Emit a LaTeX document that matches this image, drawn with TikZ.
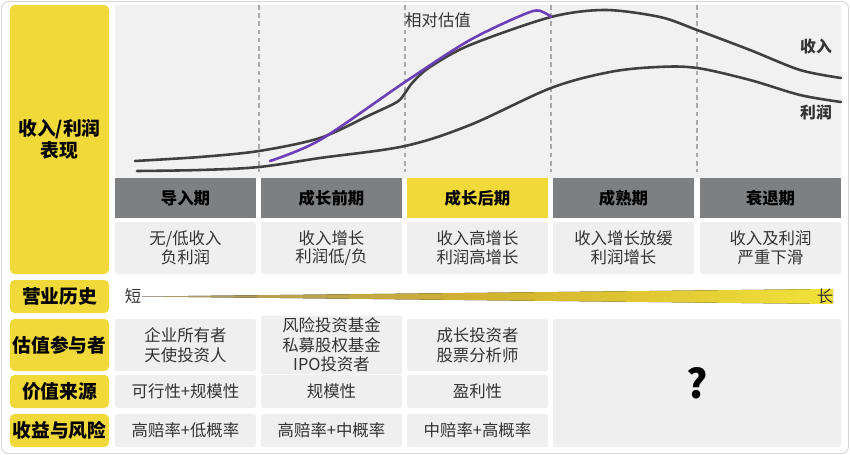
\documentclass[tikz,border=0pt]{standalone}
\usepackage{fontspec}
\setmainfont{Noto Sans CJK SC}
\usetikzlibrary{positioning, calc}
\definecolor{TextGray}{HTML}{333333}
\definecolor{StageYellow}{HTML}{F2D93A}
\definecolor{HeadGray}{HTML}{7E7F81}
\definecolor{CellGray}{HTML}{EFEFEF}
\definecolor{ChartGray}{HTML}{F1F1F1}
\definecolor{LineGray}{HTML}{D6D6D6}
\definecolor{DashGray}{HTML}{A9A9A9}
\definecolor{CurveDark}{HTML}{404040}
\definecolor{ValuePurple}{HTML}{6B3FB8}
\definecolor{BarGold}{HTML}{A89568}
\definecolor{BarMid}{HTML}{D2B22E}
\definecolor{BarYellow}{HTML}{F2E23A}
\tikzset{
  rowlabel/.style={fill=StageYellow, rounded corners=4pt, align=center, minimum width=2.97cm, inner sep=2pt, font=\fontsize{16}{19}\selectfont\bfseries, text=black},
  stagehead/.style={fill=HeadGray, align=center, minimum width=4.23cm, minimum height=1.2cm, inner sep=2pt, font=\fontsize{14}{17}\selectfont\bfseries, text=black},
  stagehot/.style={stagehead, fill=StageYellow},
  cell/.style={fill=CellGray, rounded corners=1.5pt, align=center, minimum width=4.23cm, inner sep=2pt, font=\fontsize{14}{17}\selectfont, text=TextGray},
  desccell/.style={cell, minimum height=1.56cm, font=\fontsize{14}{15.8}\selectfont},
  tallcell/.style={cell, minimum height=1.56cm},
  lowcell/.style={cell, minimum height=0.99cm},
  curvelabel/.style={font=\fontsize{13.5}{16}\selectfont\bfseries, text=TextGray},
  curve/.style={line width=2.2pt, draw=CurveDark, line cap=round},
  valuecurve/.style={line width=2.2pt, draw=ValuePurple, line cap=round},
  stagedash/.style={draw=DashGray, line width=1pt, dash pattern=on 4pt off 3pt}
}

\begin{document}
\begin{tikzpicture}[x=0.03cm, y=-0.03cm]
\useasboundingbox (0,0) rectangle (850,455);
\draw[LineGray, fill=white, rounded corners=6pt, line width=0.8pt] (1.5,1.5) rectangle (848.5,453.5);

\fill[ChartGray, rounded corners=2pt] (115,5) rectangle (841,178);
\draw[stagedash] (259,5) -- (259,172);
\draw[stagedash] (405,5) -- (405,172);
\draw[stagedash] (551,5) -- (551,172);
\draw[stagedash] (697,5) -- (697,172);

\draw[curve] plot[smooth, tension=0.55] coordinates {(137,171) (200,170) (259,167) (320,158) (405,146) (470,125) (551,88) (610,72) (658,67) (697,68) (750,80) (800,95) (841,102)};
\draw[curve] plot[smooth, tension=0.5] coordinates {(135,161) (200,157) (259,151) (320,138) (370,115) (397,102) (405,93) (413,82) (430,67) (470,45) (551,17) (605,10) (660,17) (697,30) (750,50) (800,70) (841,78)};
\draw[valuecurve] plot[smooth, tension=0.5] coordinates {(270,161) (320,140) (405,82) (470,40) (530,12) (545,13) (551,17)};

\node[font=\fontsize{14}{17}\selectfont, text=TextGray] (valuelbl) at (438,20) {相对估值};
\node[curvelabel] (revlbl) at (816,47) {收入};
\node[curvelabel] (proflbl) at (816,112) {利润};

\node[rowlabel, minimum height=8.07cm] (perf) at (59.5,139.5) {收入/利润\\表现};
\node[rowlabel, minimum height=0.99cm] (history) at (59.5,296.5) {营业历史};
\node[rowlabel, minimum height=1.56cm] (players) at (59.5,345) {估值参与者};
\node[rowlabel, minimum height=0.99cm] (source) at (59.5,391.5) {价值来源};
\node[rowlabel, minimum height=0.99cm] (risk) at (59.5,430.5) {收益与风险};

\node[stagehead] (intro) at (185.5,198) {导入期};
\node[stagehead] (early) at (331.5,198) {成长前期};
\node[stagehot] (late) at (477.5,198) {成长后期};
\node[stagehead] (mature) at (623.5,198) {成熟期};
\node[stagehead] (decline) at (770.5,198) {衰退期};

\node[desccell] (introdesc) at (185.5,248) {无/低收入\\负利润};
\node[desccell] (earlydesc) at (331.5,248) {收入增长\\利润低/负};
\node[desccell] (latedesc) at (477.5,248) {收入高增长\\利润高增长};
\node[desccell] (maturedesc) at (623.5,248) {收入增长放缓\\利润增长};
\node[desccell] (declinedesc) at (770.5,248) {收入及利润\\严重下滑};

\fill[left color=BarGold, right color=BarYellow, middle color=BarMid] (142,296.5) -- (833,289) -- (833,304) -- cycle;
\node[font=\fontsize{14}{17}\selectfont, text=TextGray] (shortlbl) at (133,296) {短};
\node[font=\fontsize{14}{17}\selectfont, text=TextGray] (longlbl) at (825,296) {长};

\node[tallcell] (introplayers) at (185.5,345) {企业所有者\\天使投资人};
\node[tallcell, font=\fontsize{14}{16.5}\selectfont] (earlyplayers) at (331.5,345) {风险投资基金\\私募股权基金\\IPO投资者};
\node[tallcell] (lateplayers) at (477.5,345) {成长投资者\\股票分析师};

\node[lowcell] (introsource) at (185.5,391.5) {可行性+规模性};
\node[lowcell] (earlysource) at (331.5,391.5) {规模性};
\node[lowcell] (latesource) at (477.5,391.5) {盈利性};

\node[lowcell] (introrisk) at (185.5,430.5) {高赔率+低概率};
\node[lowcell] (earlyrisk) at (331.5,430.5) {高赔率+中概率};
\node[lowcell] (laterisk) at (477.5,430.5) {中赔率+高概率};

\node[cell, minimum width=8.64cm, minimum height=3.84cm, font=\fontsize{34}{36}\selectfont\bfseries, text=black] (unknown) at (697,383) {?};
\end{tikzpicture}
\end{document}
